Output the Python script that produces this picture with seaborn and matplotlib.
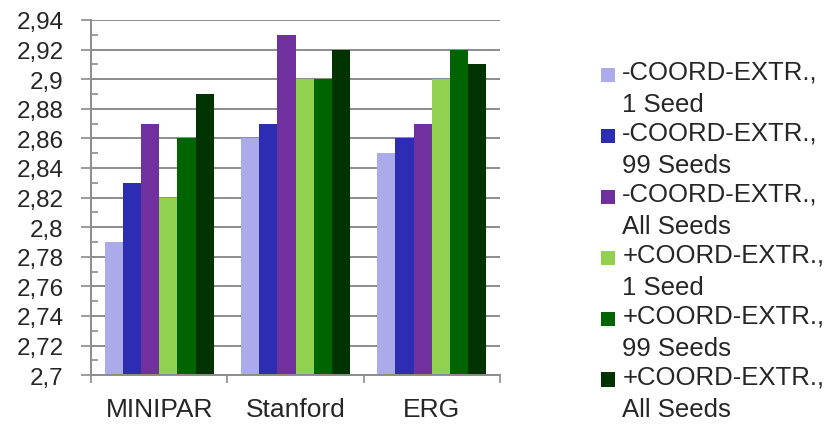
import matplotlib
matplotlib.use("Agg")
import matplotlib.pyplot as plt
import matplotlib.ticker as mticker
from matplotlib.patches import Rectangle
from matplotlib.legend_handler import HandlerPatch
import seaborn as sns
import numpy as np
import pandas as pd

parsers = ["MINIPAR", "Stanford", "ERG"]
settings = [
    "-COORD-EXTR.,\n1 Seed",
    "-COORD-EXTR.,\n99 Seeds",
    "-COORD-EXTR.,\nAll Seeds",
    "+COORD-EXTR.,\n1 Seed",
    "+COORD-EXTR.,\n99 Seeds",
    "+COORD-EXTR.,\nAll Seeds",
]
# one list per parser, in the order of settings
minipar = [2.79, 2.83, 2.87, 2.82, 2.86, 2.89]
stanford = [2.86, 2.87, 2.93, 2.90, 2.90, 2.92]
erg = [2.85, 2.86, 2.87, 2.90, 2.92, 2.91]
colors = ["#abaaea", "#2d2db4", "#7030a0", "#92d050", "#006400", "#003300"]

rows = []
for p, vals in zip(parsers, [minipar, stanford, erg]):
    for s, v in zip(settings, vals):
        rows.append({"parser": p, "setting": s, "score": v})
df = pd.DataFrame(rows)

sns.set_style("white")
plt.rcParams["font.family"] = ["Liberation Sans", "DejaVu Sans"]

fig = plt.figure(figsize=(8.29, 4.27), dpi=100)
ax = fig.add_axes([0.110, 0.119, 0.493, 0.832])

sns.barplot(data=df, x="parser", y="score", hue="setting", order=parsers,
            hue_order=settings, palette=colors, width=0.8, gap=0,
            saturation=1, edgecolor="none", ax=ax)

ax.set_ylim(2.7, 2.94)
ax.set_xlim(-0.5, 2.5)
ax.yaxis.set_major_locator(mticker.MultipleLocator(0.02))
ax.yaxis.set_minor_locator(mticker.MultipleLocator(0.01))
ax.yaxis.set_major_formatter(mticker.FuncFormatter(
    lambda v, _: f"{round(v, 2):g}".replace(".", ",")))
ax.grid(axis="y", color="#8c8c8c", linewidth=1.4)
ax.set_axisbelow(True)

ax.set_xticks(np.arange(-0.5, 3, 1), minor=True)
ax.tick_params(axis="x", which="major", length=0, pad=15.5, labelsize=19)
ax.tick_params(axis="x", which="minor", length=6, width=1.2,
               color="#8c8c8c", direction="out", bottom=True)
ax.tick_params(axis="y", which="major", length=7, width=1.2,
               color="#8c8c8c", direction="out", left=True, labelsize=17.5,
               pad=13)
ax.tick_params(axis="y", which="minor", length=5, width=1.2,
               color="#8c8c8c", direction="in", left=True)

for side in ["top", "right"]:
    ax.spines[side].set_visible(False)
for side in ["left", "bottom"]:
    ax.spines[side].set_color("#8c8c8c")
    ax.spines[side].set_linewidth(1.4)

ax.set_xlabel("")
ax.set_ylabel("")


# square marker next to the first line of each two-line label
def top_square(legend, orig_handle, xdescent, ydescent, width, height, fontsize):
    sq = width
    return Rectangle((-xdescent, -ydescent + height - sq), sq, sq)


handles, labels = ax.get_legend_handles_labels()
leg = ax.legend(handles, labels, loc="upper left", bbox_to_anchor=(0.712, 0.882),
                bbox_transform=fig.transFigure, frameon=False, fontsize=18.5,
                handlelength=0.55, handleheight=2.2, handletextpad=0.3,
                labelspacing=0.17, borderaxespad=0,
                handler_map={Rectangle: HandlerPatch(patch_func=top_square)})
for t in leg.get_texts():
    t.set_linespacing(1.45)

fig.savefig("out.png", dpi=100)
